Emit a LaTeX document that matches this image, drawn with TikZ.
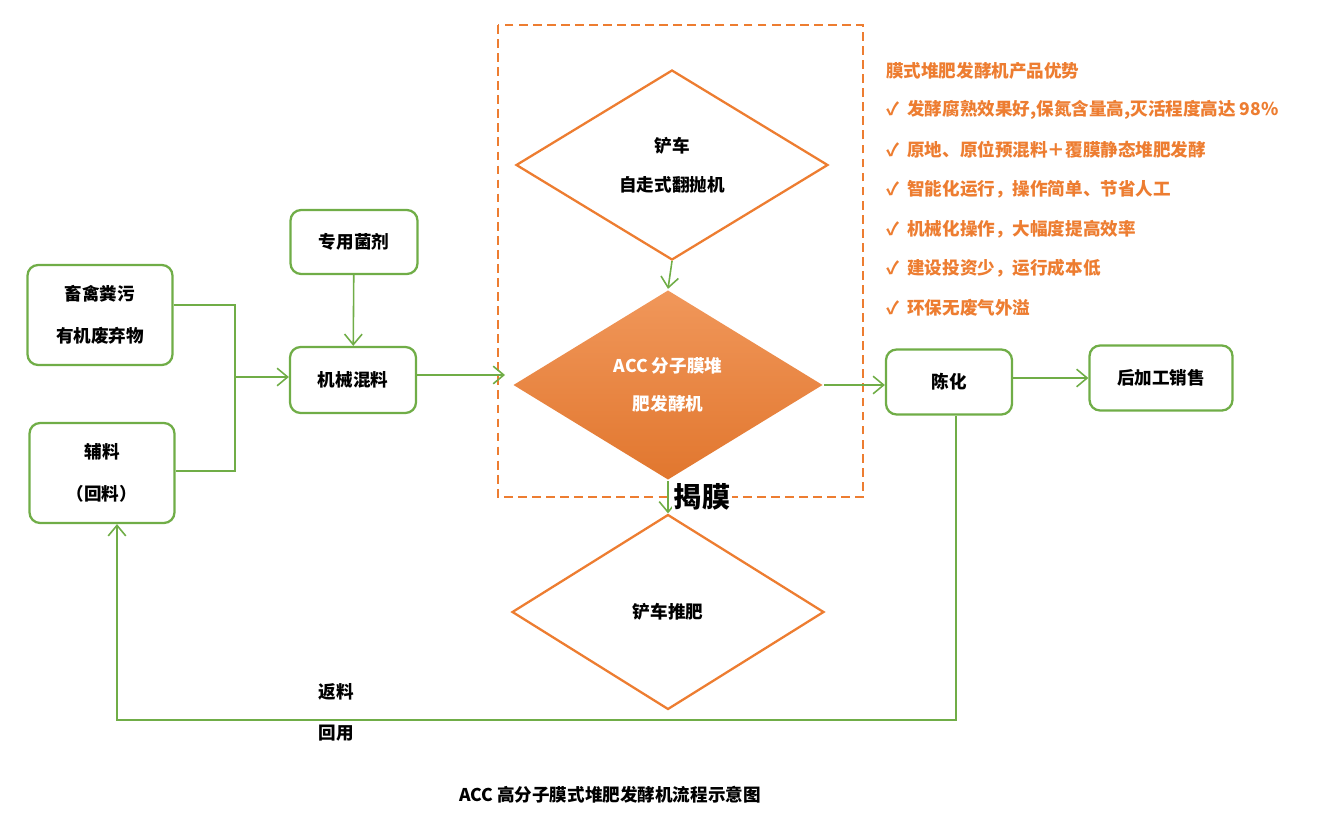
\documentclass[tikz,border=0pt]{standalone}
\usepackage{fontspec}
\newfontfamily\cjk{Noto Sans CJK SC}
\usetikzlibrary{arrows.meta,shapes.geometric}
\definecolor{gr}{RGB}{112,173,71}
\definecolor{og}{RGB}{237,125,49}
\begin{document}
\begin{tikzpicture}[x=0.02cm,y=-0.02cm,
  box/.style={draw=gr,line width=1.3pt,rounded corners=6pt,fill=white,font=\cjk\bfseries\fontsize{10}{12}\selectfont,align=center,inner sep=0},
  dia/.style={draw=og,line width=1.3pt,diamond,inner sep=0,font=\cjk\bfseries\fontsize{10}{12}\selectfont,align=center},
  ln/.style={draw=gr,line width=0.9pt},
  ar/.style={ln,-{Straight Barb[length=6pt,width=10pt]}},
  adv/.style={text=og,font=\cjk\bfseries\fontsize{10}{12}\selectfont,anchor=west}]
\useasboundingbox (0,0) rectangle (1319,821);
\draw[og,line width=0.9pt,dash pattern=on 5pt off 3pt] (498,25) rectangle (863,497);
\node[dia,minimum width=312\pgflinewidth*0+6.24cm,minimum height=3.8cm] (d1) at (672,165) {铲车\\[10pt]自走式翻抛机};
\node[dia,draw=none,top color=og!80!white,bottom color=og!95!black,text=white,minimum width=6.2cm,minimum height=3.8cm] (d2) at (668,385) {ACC 分子膜堆\\[10pt]肥发酵机};
\node[dia,minimum width=6.24cm,minimum height=3.9cm] (d3) at (668,612) {铲车推肥};
\node[box,minimum width=2.9cm,minimum height=2cm] (b1) at (100,315) {畜禽粪污\\[12pt]有机废弃物};
\node[box,minimum width=2.9cm,minimum height=2cm] (b2) at (102,473) {辅料\\[12pt]（回料）};
\node[box,minimum width=2.54cm,minimum height=1.28cm] (b3) at (354,242) {专用菌剂};
\node[box,minimum width=2.52cm,minimum height=1.32cm] (b4) at (353,380) {机械混料};
\node[box,minimum width=2.52cm,minimum height=1.3cm] (b5) at (949,382) {陈化};
\node[box,minimum width=2.86cm,minimum height=1.3cm] (b6) at (1161,378) {后加工销售};
\coordinate (j1) at (235,305); \coordinate (j2) at (235,471); \coordinate (j3) at (235,377);
\draw[ln] (b1.east|-j1) -- (j1) -- (j2) -- (b2.east|-j2);
\draw[ar] (j3) -- (b4.west|-j3);
\draw[ar] (b3) -- (b4);
\coordinate (m1) at (505,375);
\draw[ar] (b4.east|-m1) -- (m1);
\draw[ar] (d1.south) -- (d2.north);
\draw[ar] (d2.east) -- (b5.west|-d2.east);
\draw[ar] (b5.east|-b6) -- (b6.west);
\draw[ar] (d2.south) -- (d3.north);
\coordinate (r1) at (956,720); \coordinate (r2) at (117,720);
\draw[ar] (b5.south-|r1) -- (r1) -- (r2) -- (b2.south-|r2);
\node[fill=white,inner sep=1pt,font=\cjk\bfseries\fontsize{16}{18}\selectfont] (jm) at (702,497) {揭膜};
\node[font=\cjk\bfseries\fontsize{10}{12}\selectfont] (f1) at (336,692) {返料};
\node[font=\cjk\bfseries\fontsize{10}{12}\selectfont] (f2) at (336,733) {回用};
\node[font=\cjk\bfseries\fontsize{10}{12}\selectfont] (t) at (610,795) {ACC 高分子膜式堆肥发酵机流程示意图};
\node[adv] (a0) at (880,71) {膜式堆肥发酵机产品优势};
\node[adv] (a1) at (880,110) {✓ \ 发酵腐熟效果好,保氮含量高,灭活程度高达 98\%};
\node[adv] (a2) at (880,150) {✓ \ 原地、原位预混料＋覆膜静态堆肥发酵};
\node[adv] (a3) at (880,189) {✓ \ 智能化运行，操作简单、节省人工};
\node[adv] (a4) at (880,229) {✓ \ 机械化操作，大幅度提高效率};
\node[adv] (a5) at (880,268) {✓ \ 建设投资少，运行成本低};
\node[adv] (a6) at (880,308) {✓ \ 环保无废气外溢};
\end{tikzpicture}
\end{document}
